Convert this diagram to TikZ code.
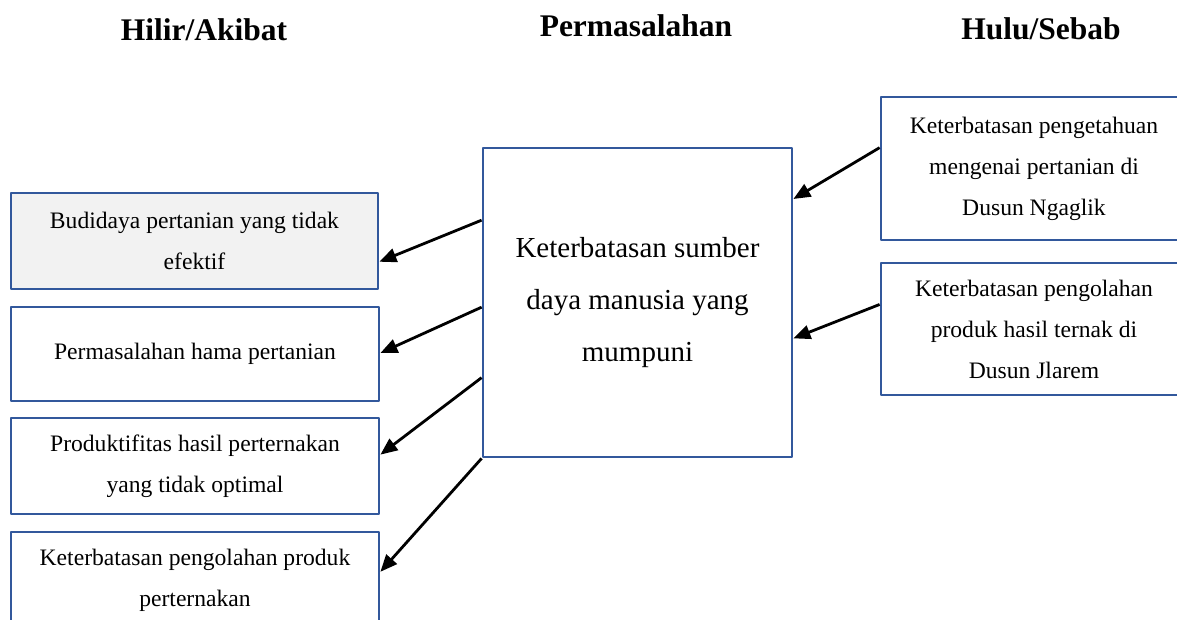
\documentclass[tikz,border=0pt]{standalone}
\usepackage{fontspec}
\setmainfont{Liberation Serif}
\usetikzlibrary{arrows.meta,calc}
\definecolor{boxblue}{RGB}{50,88,156}
\definecolor{boxgray}{RGB}{242,242,242}
\begin{document}
\begin{tikzpicture}[x=1pt, y=-1pt, line join=round, >={Triangle[length=17pt,width=14pt]},
 head/.style={anchor=base, font=\fontsize{31.5}{36}\selectfont\bfseries},
 box/.style={draw=boxblue, line width=2.8pt, fill=white, align=center, inner sep=0pt, font=\fontsize{23.6}{41}\selectfont},
 arr/.style={->, line width=2.8pt}]
 \useasboundingbox (0,0) rectangle (1177,620);
 \clip (0,0) rectangle (1177,620);
 \node[head] (hilir) at (204,41) {Hilir/Akibat};
 \node[head] (masalah) at (636,37) {Permasalahan};
 \node[head] (hulu) at (1041,40) {Hulu/Sebab};
 \node[box, fill=boxgray, minimum width=367pt, minimum height=96pt] (eff1) at (194.5,241) {Budidaya pertanian yang tidak\\efektif};
 \node[box, minimum width=368pt, minimum height=94pt] (eff2) at (195,354) {Permasalahan hama pertanian};
 \node[box, minimum width=368pt, minimum height=96pt] (eff3) at (195,466) {Produktifitas hasil perternakan\\yang tidak optimal};
 \node[box, minimum width=368pt, minimum height=96pt] (eff4) at (195,580) {Keterbatasan pengolahan produk\\perternakan};
 \node[box, font=\fontsize{29}{52}\selectfont, minimum width=309pt, minimum height=309pt] (core) at (637.5,302.5) {Keterbatasan sumber\\daya manusia yang\\mumpuni};
 \node[box, minimum width=306pt, minimum height=143pt] (cause1) at (1034,168.5) {Keterbatasan pengetahuan\\mengenai pertanian di\\Dusun Ngaglik};
 \node[box, minimum width=306pt, minimum height=132pt] (cause2) at (1034,329) {Keterbatasan pengolahan\\produk hasil ternak di\\Dusun Jlarem};
 \foreach \i/\s/\t in {1/0.236/0.71, 2/0.515/0.49, 3/0.741/0.385, 4/1/0.417}
 \draw[arr] ($(core.north west)!\s!(core.south west)$) -- ($(eff\i.north east)!\t!(eff\i.south east)$);
 \foreach \i/\s/\t in {1/0.357/0.168, 2/0.318/0.615}
 \draw[arr] ($(cause\i.north west)!\s!(cause\i.south west)$) -- ($(core.north east)!\t!(core.south east)$);
\end{tikzpicture}
\end{document}
